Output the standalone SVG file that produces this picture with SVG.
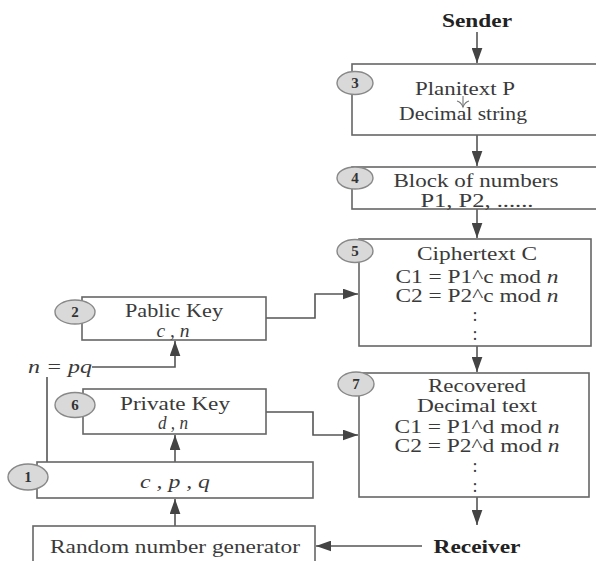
<svg xmlns="http://www.w3.org/2000/svg" width="596" height="561" viewBox="0 0 596 561">
<defs>
<style>
.box{fill:#fff;stroke:#666;stroke-width:1.6}
.badge{fill:#d9d9d9;stroke:#888;stroke-width:1.4}
.num{font-family:"Liberation Serif",serif;font-weight:bold;font-size:15px;fill:#333;text-anchor:middle}
.t{font-family:"Liberation Serif",serif;font-size:18px;fill:#3a3a3a;text-anchor:middle}
.b{font-family:"Liberation Serif",serif;font-size:18px;font-weight:bold;fill:#222;text-anchor:middle}
.i{font-style:italic}
.ln{fill:none;stroke:#555;stroke-width:1.6}
</style>
<marker id="ah2" viewBox="0 0 14 10" refX="14" refY="5" markerWidth="15" markerHeight="11" markerUnits="userSpaceOnUse" orient="auto">
<path d="M0,0 L14,5 L0,10 z" fill="#444"/>
</marker>
</defs>
<rect width="596" height="561" fill="#fff"/>

<g id="connectors">
<line class="ln" x1="477" y1="32" x2="477" y2="63" marker-end="url(#ah2)"/>
<line class="ln" x1="477" y1="135" x2="477" y2="166" marker-end="url(#ah2)"/>
<line class="ln" x1="477" y1="209" x2="477" y2="238" marker-end="url(#ah2)"/>
<line class="ln" x1="477" y1="346" x2="477" y2="372" marker-end="url(#ah2)"/>
<line class="ln" x1="477" y1="497" x2="477" y2="525" marker-end="url(#ah2)"/>
<line class="ln" x1="422" y1="546" x2="316" y2="546" marker-end="url(#ah2)"/>
<polyline class="ln" points="266,318 315,318 315,294 358,294" marker-end="url(#ah2)"/>
<polyline class="ln" points="266,412 313,412 313,435 358,435" marker-end="url(#ah2)"/>
<polyline class="ln" points="92,367 175,367 175,341" marker-end="url(#ah2)"/>
<line class="ln" x1="47" y1="377" x2="47" y2="462"/>
<line class="ln" x1="175" y1="462" x2="175" y2="435" marker-end="url(#ah2)"/>
<line class="ln" x1="175" y1="526" x2="175" y2="499" marker-end="url(#ah2)"/>
</g>

<g id="sender"><text class="b" x="477" y="27" textLength="70" lengthAdjust="spacingAndGlyphs">Sender</text></g>
<g id="receiver"><text class="b" x="477" y="553" textLength="87" lengthAdjust="spacingAndGlyphs">Receiver</text></g>

<g id="node3">
<rect class="box" x="352" y="64" width="260" height="71"/>
<ellipse class="badge" cx="355" cy="83" rx="18" ry="11.5"/>
<text class="num" x="355" y="88">3</text>
<text class="t" x="465" y="95" textLength="100" lengthAdjust="spacingAndGlyphs">Planitext P</text>
<line x1="463" y1="96" x2="463" y2="107" stroke="#777" stroke-width="1.1"/>
<path d="M457,101 Q461,102 463,107 Q465,102 469,101" fill="none" stroke="#777" stroke-width="1.1"/>
<text class="t" x="463" y="120" textLength="128" lengthAdjust="spacingAndGlyphs">Decimal string</text>
</g>

<g id="node4">
<rect class="box" x="352" y="167" width="260" height="42"/>
<ellipse class="badge" cx="355" cy="178" rx="18" ry="11"/>
<text class="num" x="355" y="183">4</text>
<text class="t" x="476" y="187" textLength="165" lengthAdjust="spacingAndGlyphs">Block of numbers</text>
<text class="t" x="477" y="207" textLength="113" lengthAdjust="spacingAndGlyphs">P1, P2, ......</text>
</g>

<g id="node5">
<rect class="box" x="359" y="239" width="232" height="107"/>
<ellipse class="badge" cx="355" cy="251" rx="18" ry="11.5"/>
<text class="num" x="355" y="256">5</text>
<text class="t" x="477" y="260" textLength="120" lengthAdjust="spacingAndGlyphs">Ciphertext C</text>
<text class="t" x="477" y="283" textLength="163" lengthAdjust="spacingAndGlyphs">C1 = P1^c mod <tspan class="i">n</tspan></text>
<text class="t" x="477" y="302" textLength="163" lengthAdjust="spacingAndGlyphs">C2 = P2^c mod <tspan class="i">n</tspan></text>
<text class="t" x="475" y="321">:</text>
<text class="t" x="475" y="340">:</text>
</g>

<g id="node7">
<rect class="box" x="359" y="373" width="230" height="124"/>
<ellipse class="badge" cx="356" cy="384" rx="18" ry="12"/>
<text class="num" x="356" y="389">7</text>
<text class="t" x="477" y="392" textLength="98" lengthAdjust="spacingAndGlyphs">Recovered</text>
<text class="t" x="477" y="412" textLength="120" lengthAdjust="spacingAndGlyphs">Decimal text</text>
<text class="t" x="477" y="433" textLength="165" lengthAdjust="spacingAndGlyphs">C1 = P1^d mod <tspan class="i">n</tspan></text>
<text class="t" x="477" y="452" textLength="165" lengthAdjust="spacingAndGlyphs">C2 = P2^d mod <tspan class="i">n</tspan></text>
<text class="t" x="475" y="472">:</text>
<text class="t" x="475" y="492">:</text>
</g>

<g id="node2">
<rect class="box" x="82" y="297" width="184" height="43"/>
<ellipse class="badge" cx="75" cy="312" rx="20" ry="12"/>
<text class="num" x="75" y="317">2</text>
<text class="t" x="174" y="317" textLength="98" lengthAdjust="spacingAndGlyphs">Pablic Key</text>
<text class="t i" x="173" y="337" textLength="33" lengthAdjust="spacingAndGlyphs">c , n</text>
</g>

<g id="npq"><text class="t i" x="28" y="373" style="text-anchor:start" textLength="64" lengthAdjust="spacingAndGlyphs">n = pq</text></g>

<g id="node6">
<rect class="box" x="83" y="389" width="183" height="45"/>
<ellipse class="badge" cx="75" cy="405" rx="20" ry="12.5"/>
<text class="num" x="75" y="410">6</text>
<text class="t" x="175" y="410" textLength="110" lengthAdjust="spacingAndGlyphs">Private Key</text>
<text class="t i" x="173" y="429" textLength="30" lengthAdjust="spacingAndGlyphs">d , n</text>
</g>

<g id="node1">
<rect class="box" x="37" y="462" width="276" height="36"/>
<ellipse class="badge" cx="28" cy="477" rx="20" ry="13"/>
<text class="num" x="28" y="482">1</text>
<text class="t i" x="175" y="488" textLength="70" lengthAdjust="spacingAndGlyphs">c , p , q</text>
</g>

<g id="random">
<rect class="box" x="33" y="526" width="282" height="45"/>
<text class="t" x="175" y="553" textLength="250" lengthAdjust="spacingAndGlyphs">Random number generator</text>
</g>
</svg>
